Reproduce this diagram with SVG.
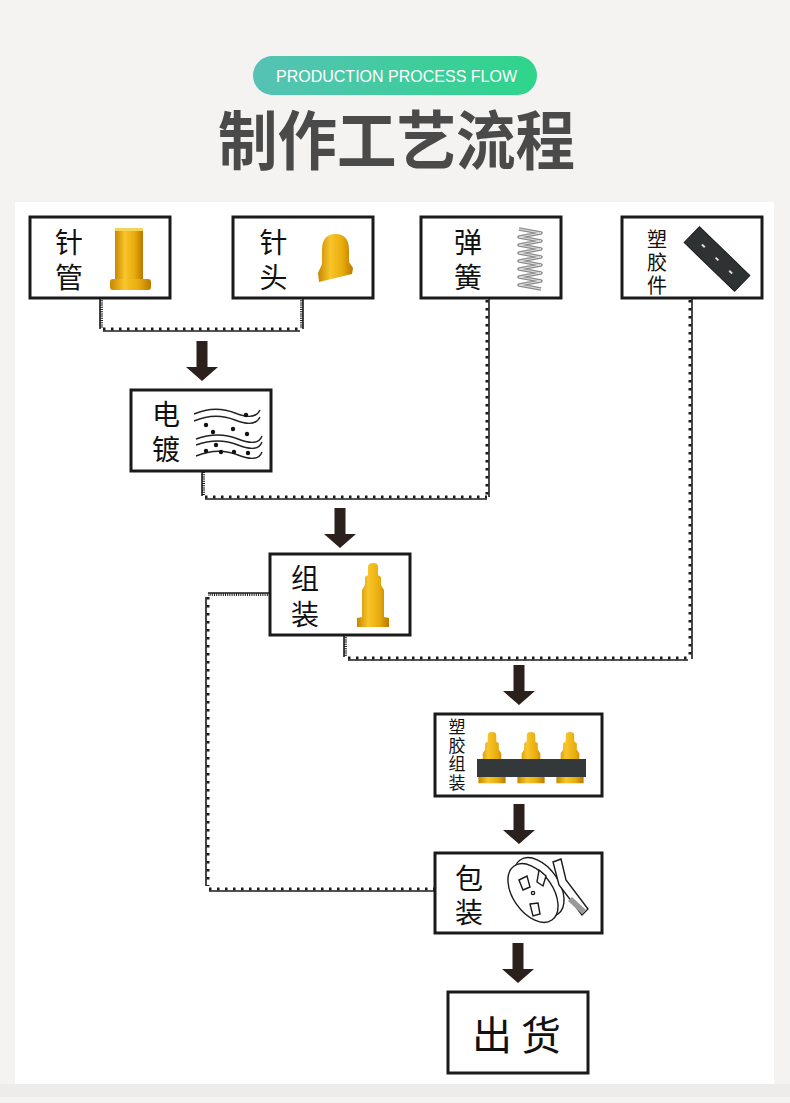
<svg xmlns="http://www.w3.org/2000/svg" width="790" height="1103" viewBox="0 0 790 1103">
<defs>
<style>
.box{fill:#fff;stroke:#1a1a1a;stroke-width:3}
.cj{font-family:"Noto Sans CJK SC","Noto Sans",sans-serif;fill:#111;text-anchor:middle;dominant-baseline:central}
.v{font-family:"Noto Sans CJK SC","Noto Sans",sans-serif;fill:#111;text-anchor:middle;writing-mode:vertical-rl}
.ln{stroke:#1a1a1a;stroke-width:1.6;fill:none}
.tk{stroke:#1a1a1a;stroke-width:3;stroke-dasharray:2.5 5.5;fill:none}
.tkd{stroke:#1a1a1a;stroke-width:3;stroke-dasharray:1 1.2;fill:none}
.arr{fill:#2b201c}
.wave{fill:none;stroke:#222;stroke-width:1.4}
</style>
<linearGradient id="pill" x1="0" y1="0" x2="1" y2="0">
<stop offset="0" stop-color="#56c2b5"/>
<stop offset="1" stop-color="#2ed58a"/>
</linearGradient>
<linearGradient id="gold" x1="0" y1="0" x2="1" y2="0">
<stop offset="0" stop-color="#c88700"/>
<stop offset="0.35" stop-color="#f8c52b"/>
<stop offset="0.7" stop-color="#e8ac0c"/>
<stop offset="1" stop-color="#b97800"/>
</linearGradient>
<path id="arrow" d="M-5.5 0 H5.5 V26 H16 L0 40 L-16 26 H-5.5 Z"/>
<path id="pin" d="M-5 12 L-5 4 Q-5 0 0 0 Q5 0 5 4 L5 12 L8 14 L8 22 L11 27 L11 54 L16 55 L16 64 L-16 64 L-16 55 L-11 54 L-11 27 L-8 22 L-8 14 Z"/>
</defs>
<rect width="790" height="1103" fill="#f5f3f2"/>
<rect x="0" y="1084" width="790" height="13" fill="#eeecea"/>
<rect x="15" y="202" width="759" height="882" fill="#fff"/>

<g id="header">
<rect x="253" y="56" width="284" height="39" rx="19.5" fill="url(#pill)"/>
<text x="276" y="76.5" font-family="Liberation Sans, Arial, sans-serif" font-size="16" fill="#fff" dominant-baseline="central" textLength="241" lengthAdjust="spacingAndGlyphs">PRODUCTION PROCESS FLOW</text>
<text x="218" y="136" font-family="Noto Sans CJK SC, sans-serif" font-size="64" font-weight="bold" fill="#4a4a4a" dominant-baseline="central" textLength="357" lengthAdjust="spacingAndGlyphs">制作工艺流程</text>
</g>

<g id="connectors">
<path class="ln" d="M100 298 V329"/><path class="tkd" d="M101.5 298 V328"/>
<path class="ln" d="M103 331 H300"/><path class="tk" d="M103 329 H300"/>
<path class="ln" d="M303 298 V329"/><path class="tkd" d="M301.5 298 V328"/>

<path class="ln" d="M202 472 V496"/><path class="tkd" d="M203.5 472 V496"/>
<path class="ln" d="M205 499 H487"/><path class="tk" d="M205 497 H487"/>
<path class="ln" d="M489 298 V497"/><path class="tk" d="M487 300 V497"/>

<path class="ln" d="M344 635 V657"/><path class="tkd" d="M345.5 635 V657"/>
<path class="ln" d="M348 660 H688"/><path class="tk" d="M348 658 H688"/>
<path class="ln" d="M692 298 V659"/><path class="tk" d="M690 300 V659"/>

<path class="ln" d="M270 593 H208"/><path class="tkd" d="M270 594.5 H208"/>
<path class="ln" d="M206 597 V886"/><path class="tk" d="M208 597 V886"/>
<path class="ln" d="M209 891 H436"/><path class="tk" d="M209 889 H434"/>

<use href="#arrow" class="arr" x="202" y="341"/>
<use href="#arrow" class="arr" x="340" y="508"/>
<use href="#arrow" class="arr" x="519" y="665"/>
<use href="#arrow" class="arr" x="519" y="804"/>
<use href="#arrow" class="arr" x="518" y="943"/>
</g>

<g id="n-zhenguan">
<rect class="box" x="30" y="217" width="140" height="81"/>
<text class="v" x="69" y="263" font-size="28" letter-spacing="7">针管</text>
<rect x="115" y="228" width="28" height="54" rx="2" fill="url(#gold)"/>
<rect x="115" y="228" width="28" height="3" fill="#f5d25a"/>
<rect x="110" y="279" width="41" height="11" rx="3" fill="url(#gold)"/>
</g>

<g id="n-zhentou">
<rect class="box" x="233" y="217" width="140" height="81"/>
<text class="v" x="273.5" y="263" font-size="28" letter-spacing="7">针头</text>
<path d="M322 264 L322 250 Q322 234 335.5 234 Q349 234 349 250 L349 262 L353 268 L352 274 L319 282 L318 273 Z" fill="url(#gold)"/>
</g>

<g id="n-tanhuang">
<rect class="box" x="421" y="217" width="140" height="81"/>
<text class="v" x="468" y="263" font-size="28" letter-spacing="7">弹簧</text>
<polyline points="519,229 541,233 519,237 541,241 519,245 541,249 519,253 541,257 519,261 541,265 519,269 541,273 519,277 541,281 519,285 541,289" fill="none" stroke="#8d8d8d" stroke-width="3.4" stroke-linejoin="round"/>
<polyline points="519,229 541,233 519,237 541,241 519,245 541,249 519,253 541,257 519,261 541,265 519,269 541,273 519,277 541,281 519,285 541,289" fill="none" stroke="#e2e2e2" stroke-width="1"/>
</g>

<g id="n-sujiaojian">
<rect class="box" x="622" y="217" width="140" height="81"/>
<text class="v" x="657" y="263.5" font-size="20" letter-spacing="3">塑胶件</text>
<g transform="translate(717 259) rotate(44)">
<rect x="-35" y="-11" width="70" height="22" fill="#2f3233" stroke="#1b1d1e" stroke-width="1"/>
<rect x="-21" y="-1" width="4" height="2" fill="#ddd"/>
<rect x="-2" y="-1" width="4" height="2" fill="#ddd"/>
<rect x="17" y="-1" width="4" height="2" fill="#ddd"/>
</g>
</g>

<g id="n-diandu">
<rect class="box" x="131" y="390" width="140" height="81"/>
<text class="v" x="166" y="435" font-size="28" letter-spacing="7">电镀</text>
<path class="wave" d="M194 414 Q215 405 235 413 T260 410"/>
<path class="wave" d="M194 421 Q215 412 235 420 T260 417"/>
<path class="wave" d="M196 439 Q218 431 238 439 T262 436"/>
<path class="wave" d="M196 445 Q218 437 238 445 T262 442"/>
<path class="wave" d="M196 456 Q218 447 238 455 T262 452"/>
<g fill="#111">
<circle cx="246" cy="415" r="2.2"/><circle cx="206" cy="425" r="2.2"/><circle cx="213" cy="432" r="2.2"/>
<circle cx="233" cy="429" r="2.2"/><circle cx="247" cy="434" r="2.2"/><circle cx="216" cy="445" r="2.2"/>
<circle cx="206" cy="451" r="2.2"/><circle cx="221" cy="452" r="2.2"/><circle cx="234" cy="452" r="2.2"/><circle cx="248" cy="453" r="2.2"/>
</g>
</g>

<g id="n-zuzhuang">
<rect class="box" x="270" y="554" width="140" height="81"/>
<text class="v" x="305" y="600" font-size="28" letter-spacing="8">组装</text>
<use href="#pin" fill="url(#gold)" x="373" y="563"/>
</g>

<g id="n-sujiaozuzhuang">
<rect class="box" x="435" y="714" width="167" height="82"/>
<text class="v" x="457" y="755.5" font-size="17" letter-spacing="1.5">塑胶组装</text>
<g fill="url(#gold)">
<use href="#pin" transform="translate(492 732) scale(0.85 0.8)"/>
<use href="#pin" transform="translate(531 732) scale(0.85 0.8)"/>
<use href="#pin" transform="translate(570 732) scale(0.85 0.8)"/>
</g>
<rect x="477" y="759" width="109" height="18" fill="#33393b"/>
</g>

<g id="n-baozhuang">
<rect class="box" x="435" y="853" width="167" height="80"/>
<text class="v" x="469" y="898" font-size="28" letter-spacing="6">包装</text>
<g fill="#fff" stroke="#1a1a1a" stroke-width="1.4">
<ellipse cx="539" cy="887" rx="20" ry="33" transform="rotate(-35 539 887)"/>
<path d="M553 862 L561 859 L566 880 L588 909 L582 915 L559 885 Z"/>
<ellipse cx="533" cy="893" rx="20" ry="33" transform="rotate(-35 533 893)"/>
<path d="M519 880 L527 876 L530 887 L523 890 Z"/>
<path d="M539 870 L546 876 L543 886 L537 882 Z"/>
<path d="M530 904 L538 903 L540 914 L533 916 Z"/>
<circle cx="533" cy="893" r="1.6"/>
</g>
<path d="M572 897 L586 910 L582 914 L568 901 Z" fill="#9a9a9a"/>
</g>

<g id="n-chuhuo">
<rect class="box" x="448" y="992" width="140" height="81"/>
<text class="cj" x="492" y="1033" font-size="40">出</text>
<text class="cj" x="541" y="1033" font-size="40">货</text>
</g>
</svg>
